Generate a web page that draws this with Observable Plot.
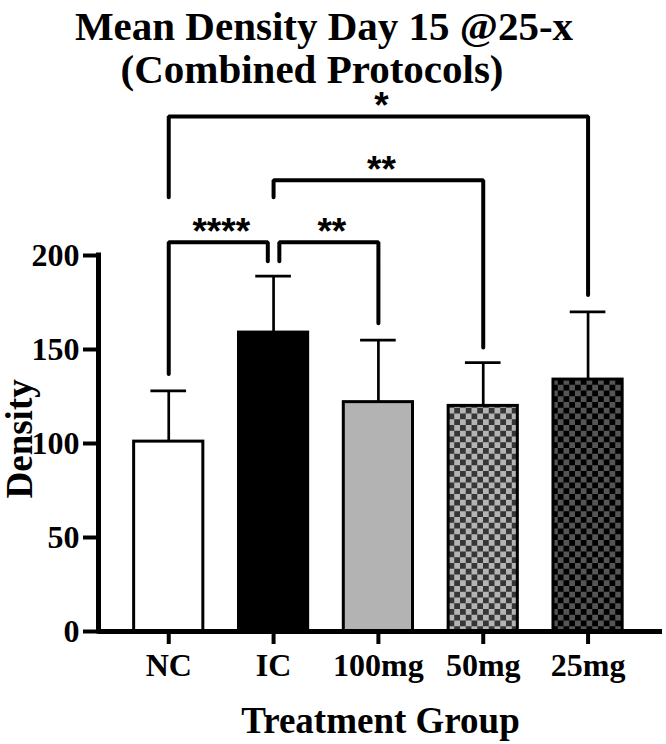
<!DOCTYPE html>
<html><head><meta charset="utf-8">
<script src="https://cdn.jsdelivr.net/npm/d3@7"></script>
<script src="https://cdn.jsdelivr.net/npm/@observablehq/plot@0.6"></script>
<style>
body{margin:0;background:#fff;}
#title{position:relative;z-index:1;height:80px;width:666px;padding-top:5px;box-sizing:border-box;font:bold 41px/43px "Liberation Serif",serif;color:#000;}
#title div{text-align:center;white-space:nowrap;}
#t1{width:648px;}
#t2{width:624px;line-height:28px;margin-top:7px;}
g[aria-label="stars"] text{letter-spacing:7px;}
</style></head><body>
<svg width="0" height="0" style="position:absolute">
<defs>
<pattern id="check50" width="11.5" height="11.5" patternUnits="userSpaceOnUse">
<rect width="11.5" height="11.5" fill="#b4b4b4"/>
<rect width="5.75" height="5.75" fill="#363636"/>
<rect x="5.75" y="5.75" width="5.75" height="5.75" fill="#363636"/>
</pattern>
<pattern id="check25" width="11.5" height="11.5" patternUnits="userSpaceOnUse">
<rect width="11.5" height="11.5" fill="#000"/>
<rect width="5.75" height="5.75" fill="#555"/>
<rect x="5.75" y="5.75" width="5.75" height="5.75" fill="#555"/>
</pattern>
</defs></svg>
<div id="title"><div id="t1">Mean Density Day 15 @25-x</div><div id="t2">(Combined Protocols)</div></div>
<div id="chart"></div>
<script>
// ---- data ----
const groups = ["NC", "IC", "100mg", "50mg", "25mg"];
const means  = [101, 159, 122, 120, 134];
const uppers = [128, 189, 155, 143, 170];
const fills  = ["white", "black", "#b3b3b3", "url(#check50)", "url(#check25)"];
const yTicks = [0, 50, 100, 150, 200];

const bracketFrom    = ["NC", "IC", "IC", "NC"];
const bracketTo      = ["IC", "100mg", "50mg", "25mg"];
const bracketTop     = [207, 207, 240, 274];
const bracketFromEnd = [137, 197, 231, 231];
const bracketToEnd   = [197, 164, 151, 179];
const bracketLabel   = ["****", "**", "**", "*"];
const nudgeFrom      = [0, 1, 0, 0];
const nudgeTo        = [-1, 0, 0, 0];

// ---- layout/style ----
const xDomain = [-0.67, 4.71];
const barHalf = 0.33, capHalf = 0.17, legNudge = 0.055;
const serif = '"Liberation Serif", "Times New Roman", serif';

const idx = d3.range(groups.length);
const bIdx = d3.range(bracketFrom.length);
const pts = [];
bIdx.forEach(k => {
  const a = groups.indexOf(bracketFrom[k]) + nudgeFrom[k] * legNudge;
  const b = groups.indexOf(bracketTo[k]) + nudgeTo[k] * legNudge;
  pts.push({k, x: a, y: bracketFromEnd[k]}, {k, x: a, y: bracketTop[k]},
           {k, x: b, y: bracketTop[k]}, {k, x: b, y: bracketToEnd[k]});
});

const plot = Plot.plot({
  width: 666,
  height: 664,
  marginLeft: 98,
  marginRight: 4,
  marginTop: 175,
  marginBottom: 113,
  style: {fontFamily: serif, color: "black", background: "white", overflow: "visible"},
  x: {type: "linear", domain: xDomain},
  y: {domain: [0, 200]},
  color: {type: "ordinal", domain: groups, range: fills},
  marks: [
    Plot.rect(idx, {x1: i => i - barHalf, x2: i => i + barHalf, y1: i => 0, y2: i => means[i],
      fill: i => groups[i], stroke: "black", strokeWidth: 3}),
    Plot.ruleX(idx, {x: i => i, y1: i => means[i], y2: i => uppers[i], strokeWidth: 2.7}),
    Plot.ruleY(idx, {y: i => uppers[i], x1: i => i - capHalf, x2: i => i + capHalf, strokeWidth: 2.7}),
    Plot.line(pts, {x: "x", y: "y", z: "k", strokeWidth: 4, strokeLinecap: "round", strokeLinejoin: "miter"}),
    Plot.text(bIdx, {
      x: k => (groups.indexOf(bracketFrom[k]) + nudgeFrom[k] * legNudge + groups.indexOf(bracketTo[k]) + nudgeTo[k] * legNudge) / 2,
      y: k => bracketTop[k], text: k => bracketLabel[k], lineAnchor: "bottom", dx: 3, dy: 2,
      fontSize: 37, fontWeight: "bold", fontFamily: '"Liberation Sans", Arial, sans-serif', ariaLabel: "stars"}),
    Plot.ruleY([0], {strokeWidth: 5}),
    Plot.ruleX([{x: xDomain[0], y1: yTicks[0], y2: yTicks[yTicks.length - 1]}], {x: "x", y1: "y1", y2: "y2", strokeWidth: 5, strokeLinecap: "square"}),
    Plot.axisY({ticks: yTicks, tickSize: 15, tickPadding: 4, fontSize: 32, fontWeight: "bold", fontFamily: serif, strokeWidth: 4, label: null}),
    Plot.axisX({ticks: idx, tickFormat: i => groups[i], tickSize: 13, tickPadding: 9, fontSize: 32, fontWeight: "bold", fontFamily: serif, strokeWidth: 4, label: null}),
    Plot.text(["Treatment Group"], {frameAnchor: "bottom", lineAnchor: "bottom", dy: 101, fontSize: 37, fontWeight: "bold", fontFamily: serif}),
    Plot.text(["Density"], {frameAnchor: "left", rotate: -90, dx: -78, dy: 55, lineAnchor: "middle", fontSize: 37, fontWeight: "bold", fontFamily: serif})
  ]
});
document.getElementById("chart").appendChild(plot);
</script>
</body></html>
